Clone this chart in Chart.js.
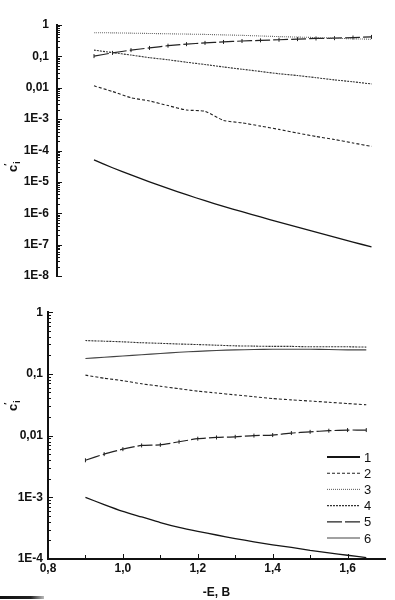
<!DOCTYPE html>
<html>
<head>
<meta charset="utf-8">
<script src="https://cdn.jsdelivr.net/npm/chart.js@4/dist/chart.umd.min.js"></script>
<style>
  html, body { margin: 0; padding: 0; background: #fff; }
  #wrap { position: relative; width: 395px; height: 600px; overflow: hidden; }
  canvas { position: absolute; left: 0; }
  #top { top: 0; }
  #bottom { top: 300px; }
  .smudge { position: absolute; left: 0; top: 596px; width: 44px; height: 3px;
    background: linear-gradient(90deg, #111 0%, #222 70%, #bbb 100%); }
</style>
</head>
<body>
<div id="wrap">
  <canvas id="top" width="395" height="300"></canvas>
  <canvas id="bottom" width="395" height="300"></canvas>
  <div class="smudge"></div>
</div>
<script>
// -E, B
const energy = [0.9, 0.95, 1.0, 1.05, 1.1, 1.15, 1.2, 1.25, 1.3, 1.35, 1.4, 1.45, 1.5, 1.55, 1.6, 1.65];

// upper panel
const topC1 = [5.0e-5, 2.82e-5, 1.66e-5, 1.0e-5, 6.17e-6, 3.89e-6, 2.51e-6, 1.66e-6, 1.12e-6, 7.6e-7, 5.25e-7, 3.63e-7, 2.51e-7, 1.74e-7, 1.2e-7, 8.5e-8];
const topC2 = [0.0115, 0.0076, 0.0048, 0.0038, 0.0027, 0.00195, 0.00178, 9.1e-4, 7.6e-4, 6.0e-4, 4.7e-4, 3.6e-4, 2.8e-4, 2.24e-4, 1.74e-4, 1.35e-4];
const topC3 = [0.569, 0.562, 0.55, 0.537, 0.525, 0.513, 0.501, 0.484, 0.468, 0.447, 0.427, 0.412, 0.398, 0.38, 0.363, 0.351];
const topC4 = [0.158, 0.132, 0.110, 0.091, 0.078, 0.065, 0.055, 0.046, 0.039, 0.033, 0.028, 0.0245, 0.0209, 0.0178, 0.0155, 0.0132];
const topC5 = [0.102, 0.129, 0.158, 0.186, 0.219, 0.245, 0.269, 0.288, 0.309, 0.324, 0.339, 0.355, 0.372, 0.38, 0.398, 0.417];

// lower panel
const bottomC1 = [1.0e-3, 7.6e-4, 5.9e-4, 4.8e-4, 3.9e-4, 3.25e-4, 2.8e-4, 2.45e-4, 2.14e-4, 1.9e-4, 1.7e-4, 1.54e-4, 1.38e-4, 1.26e-4, 1.15e-4, 1.05e-4];
const bottomC2 = [0.0955, 0.0851, 0.0776, 0.0692, 0.0631, 0.0575, 0.0525, 0.049, 0.0457, 0.0427, 0.0398, 0.038, 0.0363, 0.0347, 0.0331, 0.0316];
const bottomC4 = [0.347, 0.339, 0.331, 0.32, 0.313, 0.305, 0.299, 0.292, 0.285, 0.282, 0.279, 0.279, 0.275, 0.275, 0.275, 0.272];
const bottomC5 = [0.00398, 0.00501, 0.00603, 0.00692, 0.00708, 0.00794, 0.00891, 0.00933, 0.00955, 0.01, 0.0102, 0.011, 0.0115, 0.012, 0.0123, 0.0123];
const bottomC6 = [0.178, 0.186, 0.195, 0.204, 0.214, 0.224, 0.232, 0.24, 0.245, 0.248, 0.251, 0.251, 0.251, 0.248, 0.245, 0.245];

// axis ticks
const topTickValues = [1e-8, 1e-7, 1e-6, 1e-5, 1e-4, 1e-3, 0.01, 0.1, 1];
const topTickLabels = ['1E-8', '1E-7', '1E-6', '1E-5', '1E-4', '1E-3', '0,01', '0,1', '1'];
const bottomTickValues = [1e-4, 1e-3, 0.01, 0.1, 1];
const bottomTickLabels = ['1E-4', '1E-3', '0,01', '0,1', '1'];
const xTickValues = [0.8, 1.0, 1.2, 1.4, 1.6];
const xTickLabels = ['0,8', '1,0', '1,2', '1,4', '1,6'];
const legendLabels = ['1', '2', '3', '4', '5', '6'];

const INK = '#111';
const FONT = { family: '"Liberation Sans", Arial, sans-serif', size: 12, weight: 'bold' };

// line look of each numbered curve
const curveStyle = {
  1: { color: '#151515', width: 1.3, dash: [] },
  2: { color: '#222', width: 1.1, dash: [3, 2] },
  3: { color: '#666', width: 1.1, dash: [1, 1] },
  4: { color: '#333', width: 1.1, dash: [2, 1] },
  5: { color: '#222', width: 1.2, dash: [15, 3] },
  6: { color: '#444', width: 1.1, dash: [] },
};

function lineDataset(curve, values) {
  const st = curveStyle[curve];
  return {
    label: String(curve),
    data: energy.map((x, i) => ({ x, y: values[i] })),
    borderColor: st.color,
    borderWidth: st.width,
    borderDash: st.dash,
    tension: 0.2,
    pointRadius: curve === 5 ? 2 : 0,
    pointStyle: 'line',
    rotation: 90,
    pointBorderColor: st.color,
    pointBorderWidth: 1,
  };
}

// short ticks pointing into the plot, the way the original axes are drawn
const inwardTicks = {
  id: 'inwardTicks',
  afterDraw(chart, args, opts) {
    const { ctx, scales: { x, y } } = chart;
    ctx.save();
    ctx.strokeStyle = INK;
    ctx.lineWidth = 1;
    const lo = Math.round(Math.log10(y.min));
    const hi = Math.round(Math.log10(y.max));
    for (let e = lo; e <= hi; e++) {
      for (let m = 1; m < 10; m++) {
        if (e === hi && m > 1) break;
        const py = Math.round(y.getPixelForValue(m * Math.pow(10, e))) + 0.5;
        const len = m === 1 ? 5 : 3;
        ctx.beginPath();
        ctx.moveTo(y.right, py);
        ctx.lineTo(y.right + len, py);
        ctx.stroke();
      }
    }
    if (opts.xTicks) {
      for (let k = 0; k * 0.1 + x.min <= 1.65 + 1e-9; k++) {
        const px = Math.round(x.getPixelForValue(x.min + k * 0.1)) + 0.5;
        const len = k % 2 === 0 ? 5 : 4;
        ctx.beginPath();
        ctx.moveTo(px, x.top);
        ctx.lineTo(px, x.top - len);
        ctx.stroke();
      }
    }
    ctx.restore();
  },
};

// rotated c'_i axis title
const yTitle = {
  id: 'yTitle',
  afterDraw(chart, args, opts) {
    const { ctx } = chart;
    ctx.save();
    ctx.translate(opts.x, opts.y);
    ctx.rotate(-Math.PI / 2);
    ctx.fillStyle = INK;
    ctx.textBaseline = 'middle';
    ctx.textAlign = 'left';
    ctx.font = 'bold 13px "Liberation Sans", Arial, sans-serif';
    ctx.fillText('c', 0, 0);
    const w = ctx.measureText('c').width;
    ctx.font = 'bold 9px "Liberation Sans", Arial, sans-serif';
    ctx.fillText('\u2032', w - 1, -5);
    ctx.fillText('i', w + 1, 5);
    ctx.restore();
  },
};

const numberedLegend = {
  id: 'numberedLegend',
  afterDraw(chart, args, opts) {
    if (!opts.show) return;
    const { ctx } = chart;
    ctx.save();
    legendLabels.forEach((lab, i) => {
      const st = curveStyle[i + 1];
      const yy = opts.y0 + i * opts.step;
      ctx.strokeStyle = st.color;
      ctx.lineWidth = i === 0 ? 2 : st.width;
      ctx.setLineDash(st.dash);
      ctx.beginPath();
      ctx.moveTo(opts.x0, yy);
      ctx.lineTo(opts.x1, yy);
      ctx.stroke();
      ctx.setLineDash([]);
      ctx.fillStyle = INK;
      ctx.font = '13px "Liberation Sans", Arial, sans-serif';
      ctx.textBaseline = 'middle';
      ctx.fillText(lab, opts.x1 + 4, yy + 1);
    });
    ctx.restore();
  },
};

function logAxis(width, values, labels, pad) {
  return {
    type: 'logarithmic',
    min: values[0],
    max: values[values.length - 1],
    afterFit: (s) => { s.width = width; },
    afterBuildTicks: (s) => { s.ticks = values.map((v) => ({ value: v })); },
    ticks: {
      autoSkip: false,
      padding: pad,
      color: INK,
      font: FONT,
      callback: (v) => labels[values.indexOf(v)],
    },
    grid: { display: false, drawTicks: false },
    border: { display: true, color: INK, width: 2 },
  };
}

const common = {
  responsive: false,
  animation: false,
  devicePixelRatio: 1,
};

new Chart(document.getElementById('top'), {
  type: 'line',
  data: {
    datasets: [
      lineDataset(1, topC1),
      lineDataset(2, topC2),
      lineDataset(3, topC3),
      lineDataset(4, topC4),
      lineDataset(5, topC5),
    ],
  },
  options: {
    ...common,
    layout: { padding: { top: 25, bottom: 24, left: 0, right: 0 } },
    plugins: {
      legend: { display: false },
      tooltip: { enabled: false },
      inwardTicks: { xTicks: false },
      yTitle: { x: 13, y: 172 },
      numberedLegend: { show: false },
    },
    scales: {
      x: { type: 'linear', min: 0.8, max: 1.7, display: false },
      y: logAxis(57, topTickValues, topTickLabels, 8),
    },
  },
  plugins: [inwardTicks, yTitle, numberedLegend],
});

new Chart(document.getElementById('bottom'), {
  type: 'line',
  data: {
    datasets: [
      lineDataset(1, bottomC1),
      lineDataset(2, bottomC2),
      lineDataset(4, bottomC4),
      lineDataset(5, bottomC5),
      lineDataset(6, bottomC6),
    ],
  },
  options: {
    ...common,
    layout: { padding: { top: 11, bottom: 0, left: 0, right: 10 } },
    plugins: {
      legend: { display: false },
      tooltip: { enabled: false },
      inwardTicks: { xTicks: true },
      yTitle: { x: 13, y: 411 - 300 },
      numberedLegend: { show: true, x0: 327, x1: 360, y0: 157, step: 16.2 },
    },
    scales: {
      x: {
        type: 'linear',
        min: 0.8,
        max: 1.7,
        afterFit: (s) => { s.height = 41; },
        afterBuildTicks: (s) => { s.ticks = xTickValues.map((v) => ({ value: v })); },
        ticks: {
          autoSkip: false,
          padding: 2,
          color: INK,
          font: FONT,
          callback: (v) => xTickLabels[xTickValues.indexOf(v)],
        },
        grid: { display: false, drawTicks: false },
        border: { display: true, color: INK, width: 2 },
        title: { display: true, text: '-E, B', color: INK, font: FONT, padding: { top: 4, bottom: 0 } },
      },
      y: logAxis(48, bottomTickValues, bottomTickLabels, 5),
    },
  },
  plugins: [inwardTicks, yTitle, numberedLegend],
});
</script>
</body>
</html>
